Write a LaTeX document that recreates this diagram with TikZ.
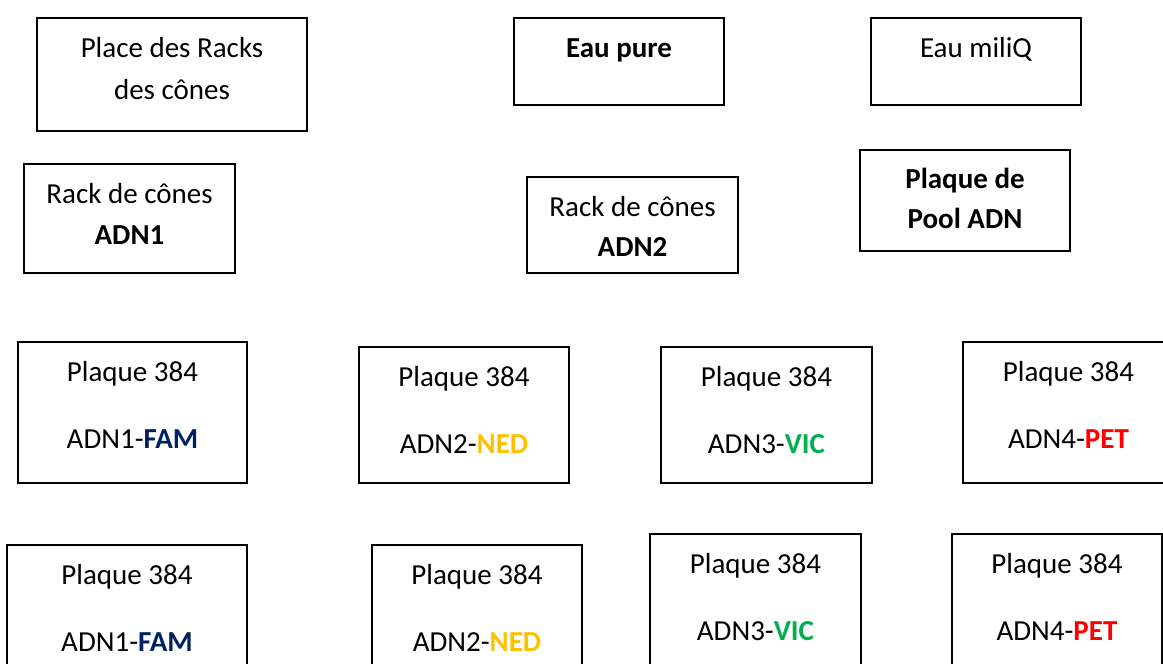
\documentclass[tikz,border=0pt]{standalone}
\usepackage{fontspec}
\setmainfont{Carlito}
\definecolor{famblue}{HTML}{002060}
\definecolor{nedgold}{HTML}{FFC000}
\definecolor{vicgreen}{HTML}{00B050}
\definecolor{petred}{HTML}{FF0000}
\begin{document}
\begin{tikzpicture}[x=1pt,y=-1pt,
  box/.style={draw, line width=2pt, anchor=north west, inner sep=0pt, outer sep=0pt},
  txt/.style={anchor=base, inner sep=0pt, font=\fontsize{29}{34}\selectfont}]
\useasboundingbox (0,0) rectangle (1163,664);
% boxes
\node[box, minimum width=270, minimum height=113] (racks) at (37,18) {};
\node[box, minimum width=210, minimum height=87] (pure) at (514,18) {};
\node[box, minimum width=210, minimum height=87] (miliq) at (871,18) {};
\node[box, minimum width=211, minimum height=109] (rack1) at (24,164) {};
\node[box, minimum width=211, minimum height=96] (rack2) at (527,177) {};
\node[box, minimum width=210, minimum height=101] (pool) at (860,150) {};
\node[box, minimum width=229, minimum height=141] (r3a) at (18,342) {};
\node[box, minimum width=210, minimum height=136] (r3b) at (359,347) {};
\node[box, minimum width=211, minimum height=136] (r3c) at (661,347) {};
\node[box, minimum width=211, minimum height=141] (r3d) at (963,342) {};
\node[box, minimum width=240, minimum height=145] (r4a) at (7,545) {};
\node[box, minimum width=210, minimum height=145] (r4b) at (372,545) {};
\node[box, minimum width=211, minimum height=146] (r4c) at (650,534) {};
\node[box, minimum width=210, minimum height=146] (r4d) at (952,534) {};
% texts
\node[txt] (racks1) at ([yshift=-39pt]racks.north) {Place des Racks};
\node[txt] (racks2) at ([yshift=-81pt]racks.north) {des cônes};
\node[txt] (puret) at ([yshift=-39pt]pure.north) {\bfseries Eau pure};
\node[txt] (miliqt) at ([yshift=-39pt]miliq.north) {Eau miliQ};
\node[txt] (rack1a) at ([yshift=-39pt]rack1.north) {Rack de cônes};
\node[txt] (rack1b) at ([yshift=-80pt]rack1.north) {\bfseries ADN1};
\node[txt] (rack2a) at ([yshift=-39pt]rack2.north) {Rack de cônes};
\node[txt] (rack2b) at ([yshift=-79pt]rack2.north) {\bfseries ADN2};
\node[txt] (poola) at ([yshift=-38pt]pool.north) {\bfseries Plaque de};
\node[txt] (poolb) at ([yshift=-78pt]pool.north) {\bfseries Pool ADN};
\foreach \b/\s/\c/\n in {r3a/1/famblue/FAM, r3b/2/nedgold/NED, r3c/3/vicgreen/VIC, r3d/4/petred/PET,
                         r4a/1/famblue/FAM, r4b/2/nedgold/NED, r4c/3/vicgreen/VIC, r4d/4/petred/PET}{
  \node[txt] (\b-t1) at ([yshift=-39pt]\b.north) {Plaque 384};
  \node[txt] (\b-t2) at ([yshift=-106pt]\b.north) {ADN\s-{\bfseries\color{\c}\n}};
}
\end{tikzpicture}
\end{document}
